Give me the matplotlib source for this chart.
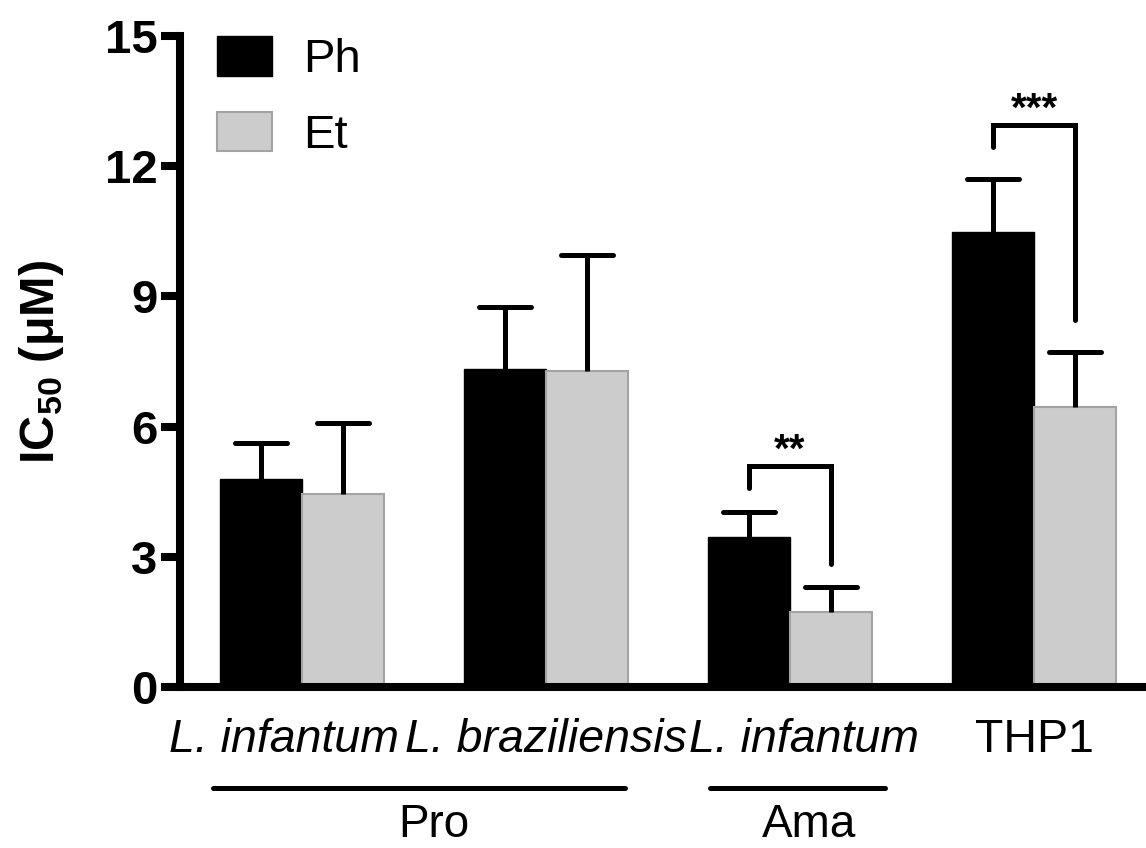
import matplotlib
matplotlib.use('Agg')
import matplotlib.pyplot as plt
import numpy as np

plt.rcParams['font.family'] = ['Liberation Sans', 'DejaVu Sans']
plt.rcParams['mathtext.fontset'] = 'custom'
plt.rcParams['mathtext.rm'] = 'Liberation Sans'
plt.rcParams['mathtext.bf'] = 'Liberation Sans:bold'

# data
groups = ['L. infantum', 'L. braziliensis', 'L. infantum', 'THP1']
italic = [True, True, True, False]
ph_mean = [4.80, 7.32, 3.46, 10.48]
ph_err = [0.83, 1.43, 0.58, 1.22]
et_mean = [4.45, 7.29, 1.73, 6.46]
et_err = [1.64, 2.66, 0.58, 1.27]
yticks = [0, 3, 6, 9, 12, 15]
sig_labels = ['**', '***']
sig_groups = [2, 3]
sig_top = [5.10, 12.95]
sig_left = [4.59, 12.44]
sig_right = [2.84, 8.45]

fig = plt.figure(figsize=(11.46, 8.48), dpi=100)
ax = fig.add_axes([179.5/1146, 161/848, 1 - 179.5/1146, (687-36)/848])

x = np.arange(len(groups))
w = 0.336
lw = 3.6
cap = 0.108
ax.bar(x - w/2, ph_mean, w, color='black', edgecolor='black', lw=1, label='Ph', zorder=2)
ax.bar(x + w/2, et_mean, w, color='#cccccc', edgecolor='#a3a3a3', lw=1.5, label='Et', zorder=2)

# upper error bars only, like Prism
for xs, m, e in [(x - w/2, ph_mean, ph_err), (x + w/2, et_mean, et_err)]:
    for xi, mi, ei in zip(xs, m, e):
        ax.plot([xi, xi], [mi, mi + ei], color='black', lw=lw, solid_capstyle='butt', zorder=3)
        ax.plot([xi - cap, xi + cap], [mi + ei, mi + ei], color='black', lw=lw,
                solid_capstyle='round', zorder=3)

# significance brackets
for lab, g, top, yl, yr in zip(sig_labels, sig_groups, sig_top, sig_left, sig_right):
    xl, xr = g - w/2, g + w/2
    ax.plot([xl, xl, xr, xr], [yl, top, top, yr], color='black', lw=lw,
            solid_capstyle='round', solid_joinstyle='miter', zorder=4)
    ax.text(g, top + 0.1, lab, ha='center', va='baseline', fontsize=29, fontweight='bold')

ax.set_xlim(-0.502, 3.459)
ax.set_ylim(0, 15)
ax.set_yticks(yticks)
ax.set_yticklabels([str(t) for t in yticks], fontsize=34, fontweight='bold')
# labels are nudged apart so they just touch, as in the original
ax.set_xticks(x + np.array([-0.074, 0, 0.057, 0]))
ax.set_xticklabels(groups, fontsize=33.5)
for t, it in zip(ax.get_xticklabels(), italic):
    t.set_fontstyle('italic' if it else 'normal')

for side in ['top', 'right']:
    ax.spines[side].set_visible(False)
for side in ['left', 'bottom']:
    ax.spines[side].set_linewidth(5.8)
ax.tick_params(axis='y', length=14, width=5.8, pad=2)
ax.tick_params(axis='x', length=0, pad=22)

ax.set_ylabel('IC$_{\\mathbf{50}}$ (μM)', fontsize=35, fontweight='bold', labelpad=28)

# stage labels under the x axis
ax.plot([-0.365, 1.324], [-2.33, -2.33], color='black', lw=lw, clip_on=False, solid_capstyle='round')
ax.plot([1.672, 2.389], [-2.33, -2.33], color='black', lw=lw, clip_on=False, solid_capstyle='round')
ax.text(0.54, -3.46, 'Pro', ha='center', va='baseline', fontsize=33)
ax.text(2.08, -3.46, 'Ama', ha='center', va='baseline', fontsize=33)

ax.legend(loc='upper left', bbox_to_anchor=(0.0388, 1.0), fontsize=34, frameon=False,
          handlelength=1.165, handleheight=0.91, handletextpad=0.66, labelspacing=0.63,
          borderpad=0, borderaxespad=0)

plt.savefig('out.png', dpi=100)
plt.close()
